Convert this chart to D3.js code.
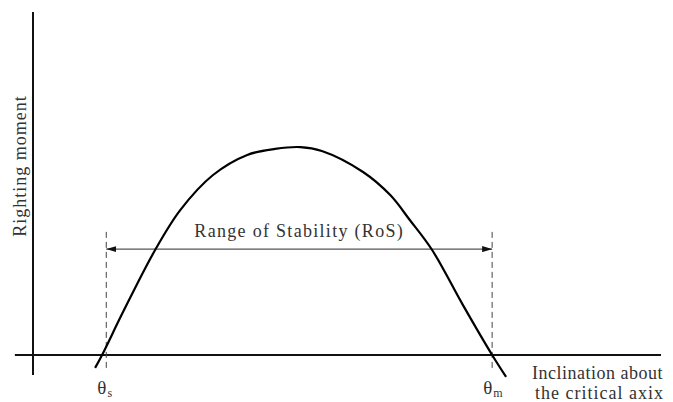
<!DOCTYPE html>
<html>
<head>
<meta charset="utf-8">
<script src="https://cdn.jsdelivr.net/npm/d3@7"></script>
<style>
  html, body { margin: 0; padding: 0; background: #fff; }
  svg { display: block; }
  text { font-family: "Liberation Serif", "DejaVu Serif", serif; fill: #333; }
</style>
</head>
<body>
<svg id="chart" width="673" height="402"></svg>
<script>
// Righting-moment curve (inclination in degrees, moment in arbitrary units)
const inclination = [8.9, 9.9, 12.9, 17.5, 21.1, 25.8, 30.7, 34.7, 38.3, 41.4, 47.3, 51.2, 54.0, 57.2, 61.6, 65.8, 67.8];
const moment      = [-0.43, 0, 1.43, 3.5, 4.83, 6.0, 6.67, 6.87, 6.93, 6.8, 6.1, 5.33, 4.5, 3.5, 1.67, 0, -0.73];

const thetaS = 10.5;       // start of range of stability
const thetaM = 65.8;       // end of range of stability
const rosLevel = 3.53;     // height of the RoS arrow
const dashRange = [-0.43, 4.17];
const xAxisExtent = [-2.6, 90];
const yAxisExtent = [-0.67, 11.43];

const labels = {
  y: "Righting moment",
  x1: "Inclination about",
  x2: "the critical axix",
  ros: "Range of Stability (RoS)",
  ts: ["θ", "s"],
  tm: ["θ", "m"]
};

const svg = d3.select("#chart");
const x = d3.scaleLinear().domain([0, 90]).range([33, 661]);
const y = d3.scaleLinear().domain([0, 10]).range([355, 55]);

const defs = svg.append("defs");
["start", "end"].forEach(k => {
  defs.append("marker")
    .attr("id", "arrow-" + k)
    .attr("viewBox", "0 0 10 6")
    .attr("refX", 10).attr("refY", 3)
    .attr("markerWidth", 10).attr("markerHeight", 6)
    .attr("markerUnits", "userSpaceOnUse")
    .attr("orient", k === "start" ? "auto-start-reverse" : "auto")
    .append("path").attr("d", "M0,0 L10,3 L0,6 Z").attr("fill", "#111");
});

// axes
svg.append("line")
  .attr("x1", x(xAxisExtent[0])).attr("x2", x(xAxisExtent[1]))
  .attr("y1", y(0)).attr("y2", y(0))
  .attr("stroke", "#111").attr("stroke-width", 2);
svg.append("line")
  .attr("x1", x(0)).attr("x2", x(0))
  .attr("y1", y(yAxisExtent[0])).attr("y2", y(yAxisExtent[1]))
  .attr("stroke", "#111").attr("stroke-width", 2);

// dashed verticals
[thetaS, thetaM].forEach(t => {
  svg.append("line")
    .attr("x1", x(t)).attr("x2", x(t))
    .attr("y1", y(dashRange[0])).attr("y2", y(dashRange[1]))
    .attr("stroke", "#444").attr("stroke-width", 1)
    .attr("stroke-dasharray", "6,4");
});

// RoS arrow
svg.append("line")
  .attr("x1", x(thetaS)).attr("x2", x(thetaM))
  .attr("y1", y(rosLevel)).attr("y2", y(rosLevel))
  .attr("stroke", "#555").attr("stroke-width", 1.2)
  .attr("marker-start", "url(#arrow-start)")
  .attr("marker-end", "url(#arrow-end)");

// curve
const pts = inclination.map((v, i) => [v, moment[i]]);
svg.append("path")
  .datum(pts)
  .attr("fill", "none").attr("stroke", "#000").attr("stroke-width", 2.2)
  .attr("d", d3.line().x(d => x(d[0])).y(d => y(d[1])).curve(d3.curveCatmullRom.alpha(0.5)));

// texts
svg.append("text")
  .attr("x", (x(thetaS) + x(thetaM)) / 2).attr("y", 237)
  .attr("text-anchor", "middle").attr("font-size", 18).attr("letter-spacing", 1.3)
  .text(labels.ros);

svg.append("text")
  .attr("transform", "translate(26,166) rotate(-90)")
  .attr("text-anchor", "middle").attr("font-size", 18).attr("letter-spacing", 1)
  .text(labels.y);

svg.append("text").attr("x", 532).attr("y", 379).attr("font-size", 18).attr("letter-spacing", 0.5).text(labels.x1);
svg.append("text").attr("x", 535).attr("y", 399).attr("font-size", 18).attr("letter-spacing", 1).text(labels.x2);

function thetaLabel(t, parts) {
  const tx = svg.append("text").attr("x", x(t) - 9).attr("y", 394).attr("font-size", 19);
  tx.append("tspan").text(parts[0]);
  tx.append("tspan").attr("font-size", 12).attr("dy", 3).attr("dx", 1).text(parts[1]);
}
thetaLabel(thetaS, labels.ts);
thetaLabel(thetaM, labels.tm);
</script>
</body>
</html>
